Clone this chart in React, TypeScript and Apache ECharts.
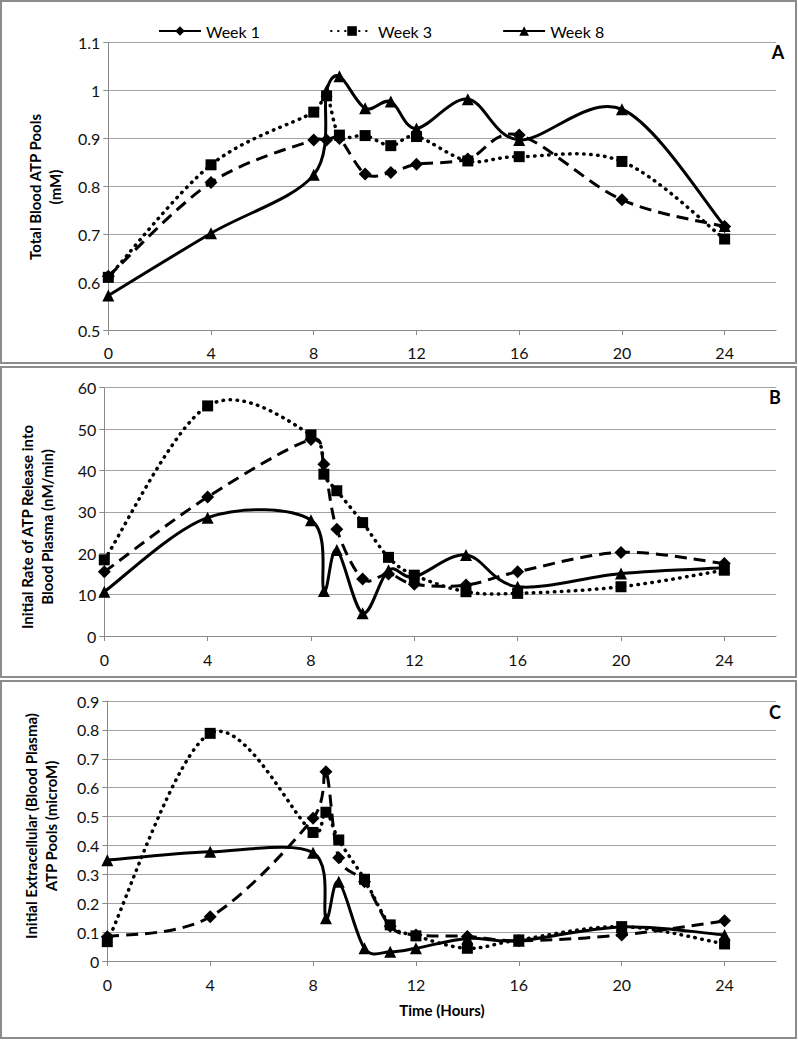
import React, { useEffect, useRef } from "react";
import * as echarts from "echarts";

// Sampling times (hours)
const times = [0, 4, 8, 8.5, 9, 10, 11, 12, 14, 16, 20, 24];
const xTicks = [0, 4, 8, 12, 16, 20, 24];
const seriesNames = ["Week 1", "Week 3", "Week 8"];

// Panel A: Total Blood ATP Pools (mM)
const aWeek1 = [0.612, 0.808, 0.897, 0.897, 0.9, 0.826, 0.829, 0.846, 0.857, 0.907, 0.772, 0.716];
const aWeek3 = [0.61, 0.845, 0.955, 0.989, 0.907, 0.906, 0.885, 0.904, 0.853, 0.862, 0.852, 0.69];
const aWeek8 = [0.572, 0.702, 0.824, 1.0, 1.03, 0.963, 0.977, 0.921, 0.982, 0.897, 0.961, 0.717];

// Panel B: Initial Rate of ATP Release into Blood Plasma (nM/min)
const bWeek1 = [15.5, 33.6, 47.5, 41.5, 25.8, 13.8, 15.0, 12.5, 12.3, 15.5, 20.2, 17.5];
const bWeek3 = [18.4, 55.6, 48.6, 39.1, 35.1, 27.4, 19.0, 14.7, 10.7, 10.3, 11.9, 15.9];
const bWeek8 = [10.7, 28.6, 28.0, 10.9, 20.8, 5.5, 15.9, 14.3, 19.6, 11.9, 15.1, 16.5];

// Panel C: Initial Extracellular (Blood Plasma) ATP Pools (microM)
const cWeek1 = [0.084, 0.153, 0.494, 0.655, 0.357, 0.274, 0.12, 0.09, 0.085, 0.07, 0.09, 0.139];
const cWeek3 = [0.067, 0.788, 0.445, 0.515, 0.419, 0.283, 0.125, 0.087, 0.044, 0.073, 0.119, 0.059];
const cWeek8 = [0.349, 0.378, 0.375, 0.148, 0.274, 0.044, 0.032, 0.044, 0.078, 0.07, 0.118, 0.09];

const FONT = "Lato";
const GRID_COLOR = "#a3a3a3";
const AXIS_COLOR = "#8a8a8a";

const styles: Record<string, any> = {
  "Week 1": { symbol: "diamond", symbolSize: 13, dash: [12, 7], legendDash: [17, 8], cap: "butt", width: 3 },
  "Week 3": { symbol: "rect", symbolSize: 11, dash: [0.5, 6.5], legendDash: [0.5, 6.5], cap: "round", width: 3.5 },
  "Week 8": { symbol: "triangle", symbolSize: 12, dash: null, legendDash: "solid", cap: "butt", width: 3 },
};

// Excel-like smoothed path (Bezier with 1/6 tension, clamped on short segments)
function smoothPath(pts: number[][]) {
  const n = pts.length;
  const dist = (a: number[], b: number[]) => Math.hypot(a[0] - b[0], a[1] - b[1]);
  let d = `M${pts[0][0]},${pts[0][1]}`;
  for (let i = 0; i < n - 1; i++) {
    const p0 = pts[Math.max(i - 1, 0)];
    const p1 = pts[i];
    const p2 = pts[i + 1];
    const p3 = pts[Math.min(i + 2, n - 1)];
    const d12 = dist(p1, p2);
    const d02 = dist(p0, p2);
    const d13 = dist(p1, p3);
    const f = d02 > 0 ? Math.min(1 / 6, d12 / (2 * d02)) : 0;
    const g = d13 > 0 ? Math.min(1 / 6, d12 / (2 * d13)) : 0;
    const c1x = p1[0] + f * (p2[0] - p0[0]);
    const c1y = p1[1] + f * (p2[1] - p0[1]);
    const c2x = p2[0] - g * (p3[0] - p1[0]);
    const c2y = p2[1] - g * (p3[1] - p1[1]);
    d += ` C${c1x},${c1y} ${c2x},${c2y} ${p2[0]},${p2[1]}`;
  }
  return d;
}

function curveSeries(name: string, values: number[], idx: number) {
  const s = styles[name];
  return {
    type: "custom",
    name: name + " curve",
    xAxisIndex: idx,
    yAxisIndex: idx,
    data: times.map((t, i) => [t, values[i]]),
    encode: { x: 0, y: 1 },
    z: 2,
    silent: true,
    renderItem: (params: any, api: any) => {
      if (params.dataIndex !== 0) return null;
      const pts = times.map((t, i) => api.coord([t, values[i]]));
      return {
        type: "path",
        shape: { pathData: smoothPath(pts) },
        style: {
          fill: "none",
          stroke: "#000",
          lineWidth: s.width,
          lineDash: s.dash,
          lineCap: s.cap,
        },
      };
    },
  };
}

function markerSeries(name: string, values: number[], idx: number) {
  const s = styles[name];
  return {
    type: "scatter",
    name,
    xAxisIndex: idx,
    yAxisIndex: idx,
    data: times.map((t, i) => [t, values[i]]),
    symbol: s.symbol,
    symbolSize: s.symbolSize,
    itemStyle: { color: "#000", borderWidth: 0, opacity: 1 },
    emphasis: { disabled: true },
    z: 3,
  };
}

// Empty line series only to provide legend icons (line + marker)
function legendSeries(name: string) {
  const s = styles[name];
  return {
    type: "line",
    name,
    xAxisIndex: 0,
    yAxisIndex: 0,
    data: [],
    symbol: s.symbol,
    symbolSize: s.symbolSize,
    lineStyle: { color: "#000", width: s.width, type: s.legendDash, cap: s.cap },
    itemStyle: { color: "#000" },
  };
}

function mkX(idx: number, margin: number) {
  return {
    type: "value",
    gridIndex: idx,
    min: 0,
    max: 26,
    interval: 4,
    axisLine: { show: true, lineStyle: { color: AXIS_COLOR, width: 1 } },
    axisTick: { show: true, length: 5, lineStyle: { color: AXIS_COLOR }, customValues: xTicks },
    axisLabel: { customValues: xTicks, fontSize: 16, color: "#111", margin, fontFamily: FONT },
    splitLine: { show: false },
  };
}

function mkY(idx: number, min: number, max: number, interval: number) {
  return {
    type: "value",
    gridIndex: idx,
    min,
    max,
    interval,
    axisLine: { show: true, lineStyle: { color: AXIS_COLOR, width: 1 } },
    axisTick: { show: true, length: 5, lineStyle: { color: AXIS_COLOR } },
    axisLabel: { fontSize: 16, color: "#111", margin: 8, fontFamily: FONT },
    splitLine: { show: true, lineStyle: { color: GRID_COLOR, width: 1 } },
  };
}

function titleText(x: number, y: number, text: string) {
  return {
    type: "text",
    x,
    y,
    rotation: Math.PI / 2,
    style: {
      text,
      font: `bold 15px ${FONT}`,
      fill: "#000",
      align: "center",
      verticalAlign: "middle",
      lineHeight: 20,
    },
  };
}

export default function App() {
  const ref = useRef<HTMLDivElement>(null);
  useEffect(() => {
    if (!ref.current) return;
    const chart = echarts.init(ref.current, undefined, { renderer: "svg" });
    const panels = [
      [aWeek1, aWeek3, aWeek8],
      [bWeek1, bWeek3, bWeek8],
      [cWeek1, cWeek3, cWeek8],
    ];
    const series: any[] = seriesNames.map(legendSeries);
    panels.forEach((vals, idx) => {
      seriesNames.forEach((nm, k) => series.push(curveSeries(nm, vals[k], idx)));
    });
    panels.forEach((vals, idx) => {
      seriesNames.forEach((nm, k) => series.push(markerSeries(nm, vals[k], idx)));
    });
    const option = {
      animation: false,
      textStyle: { fontFamily: FONT },
      legend: {
        data: seriesNames,
        left: 153,
        top: 18,
        itemWidth: 42,
        itemHeight: 12,
        itemGap: 70,
        textStyle: { fontSize: 16, color: "#000", fontFamily: FONT },
      },
      grid: [
        { left: 108.3, top: 42.7, width: 667.7, height: 287.3 },
        { left: 104.3, top: 387.7, width: 671.7, height: 248.3 },
        { left: 107.3, top: 701, width: 668.7, height: 260 },
      ],
      xAxis: [mkX(0, 14), mkX(1, 15), mkX(2, 15)],
      yAxis: [mkY(0, 0.5, 1.1, 0.1), mkY(1, 0, 60, 10), mkY(2, 0, 0.9, 0.1)],
      series,
      graphic: [
        { type: "rect", shape: { x: 1, y: 1, width: 795, height: 362 }, style: { fill: "none", stroke: "#8c8c8c", lineWidth: 2 }, silent: true },
        { type: "rect", shape: { x: 1, y: 367, width: 795, height: 310 }, style: { fill: "none", stroke: "#8c8c8c", lineWidth: 2 }, silent: true },
        { type: "rect", shape: { x: 1, y: 681, width: 795, height: 357 }, style: { fill: "none", stroke: "#8c8c8c", lineWidth: 2 }, silent: true },
        titleText(45, 187, "Total Blood ATP Pools\n(mM)"),
        titleText(37, 527, "Initial Rate of ATP Release into\nBlood Plasma (nM/min)"),
        titleText(41, 826, "Initial Extracellular (Blood Plasma)\nATP Pools (microM)"),
        { type: "text", x: 442, y: 1010, style: { text: "Time (Hours)", font: `bold 15px ${FONT}`, fill: "#000", align: "center", verticalAlign: "middle" } },
        { type: "text", x: 778, y: 52, style: { text: "A", font: `bold 18px ${FONT}`, fill: "#000", align: "center", verticalAlign: "middle" } },
        { type: "text", x: 775, y: 397, style: { text: "B", font: `bold 18px ${FONT}`, fill: "#000", align: "center", verticalAlign: "middle" } },
        { type: "text", x: 775, y: 712, style: { text: "C", font: `bold 18px ${FONT}`, fill: "#000", align: "center", verticalAlign: "middle" } },
      ],
    };
    chart.setOption(option as any);
    return () => chart.dispose();
  }, []);
  return (
    <div
      ref={ref}
      style={{ position: "absolute", left: 0, top: 0, width: 798, height: 1041, background: "#fff" }}
    />
  );
}
